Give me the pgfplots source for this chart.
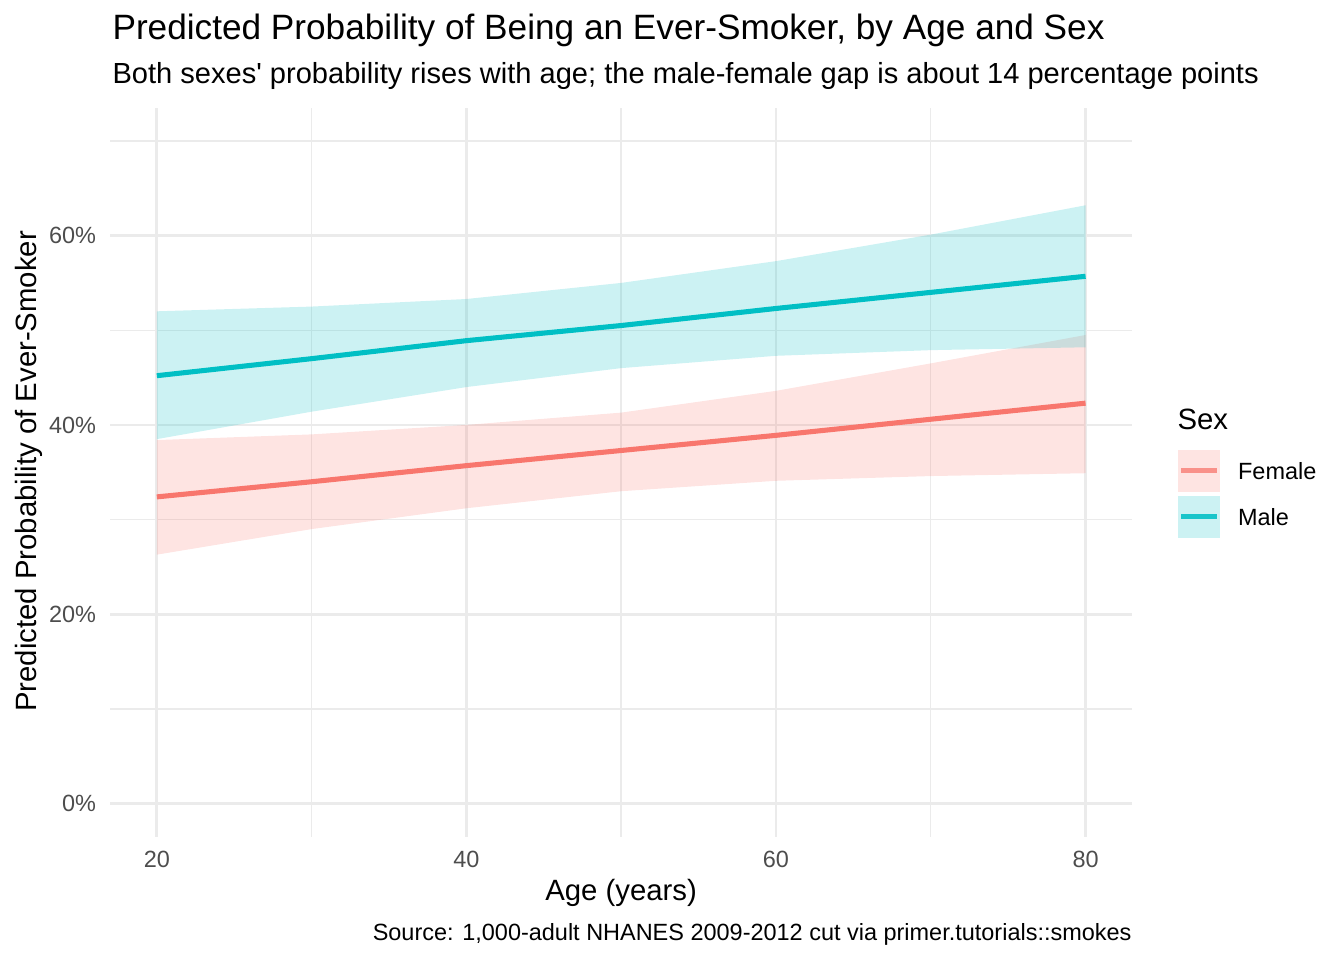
\documentclass[border=0pt]{standalone}
\usepackage{fontspec}
\setmainfont{Liberation Sans}[Ligatures=TeXOff]
\usepackage{pgfplots}
\pgfplotsset{compat=1.18}
\definecolor{fem}{HTML}{F8766D}
\definecolor{mal}{HTML}{00BFC4}
\definecolor{gridc}{HTML}{EBEBEB}
\definecolor{tickc}{HTML}{4D4D4D}
\begin{document}
\begin{tikzpicture}
\path[use as bounding box] (0,0) rectangle (504bp,360bp);
\begin{axis}[
  at={(41.4bp,46.2bp)}, anchor=south west,
  scale only axis, width=383.1bp, height=273.4bp,
  xmin=17, xmax=83, ymin=-3.5, ymax=73.5,
  axis line style={draw=none},
  tick style={draw=none},
  xtick={20,40,60,80}, ytick={0,20,40,60},
  minor xtick={30,50,70}, minor ytick={10,30,50,70},
  xticklabels={20,40,60,80},
  yticklabels={0\%,20\%,40\%,60\%},
  major tick length=0pt, minor tick length=0pt,
  grid=both,
  major grid style={draw=gridc, line width=1.07bp},
  minor grid style={draw=gridc, line width=0.53bp},
  ticklabel style={font=\fontsize{8.8bp}{10bp}\selectfont, text=tickc},
  xticklabel style={anchor=north, inner sep=0pt, yshift=-5.2bp},
  yticklabel style={anchor=east, inner sep=0pt, xshift=-5.2bp},
]
% Female ribbon
\addplot[draw=none, fill=fem, fill opacity=0.2, forget plot] coordinates {
 (20,38.4) (30,39.0) (40,40.0) (50,41.3) (60,43.6) (70,46.5) (80,49.5)
 (80,34.9) (70,34.6) (60,34.1) (50,33.0) (40,31.2) (30,29.0) (20,26.3) (20,38.4)};
% Male ribbon
\addplot[draw=none, fill=mal, fill opacity=0.2, forget plot] coordinates {
 (20,52.0) (30,52.5) (40,53.3) (50,55.0) (60,57.3) (70,60.1) (80,63.2)
 (80,48.2) (70,47.9) (60,47.3) (50,46.0) (40,44.0) (30,41.4) (20,38.5) (20,52.0)};
% Lines
\addplot[fem, line width=1.9bp, forget plot] coordinates {
 (20,32.4) (30,34.0) (40,35.7) (50,37.3) (60,38.9) (70,40.6) (80,42.3)};
\addplot[mal, line width=1.9bp, forget plot] coordinates {
 (20,45.2) (30,47.0) (40,48.9) (50,50.5) (60,52.3) (70,54.0) (80,55.7)};
\end{axis}
% Titles
\node[anchor=base west, inner sep=0pt, font=\fontsize{13.2bp}{15bp}\selectfont] at (42bp,345bp) {Predicted Probability of Being an Ever-Smoker, by Age and Sex};
\node[anchor=base west, inner sep=0pt, font=\fontsize{10.9bp}{13bp}\selectfont] at (42bp,328.8bp) {Both sexes' probability rises with age; the male-female gap is about 14 percentage points};
% Axis titles
\node[anchor=base, inner sep=0pt, font=\fontsize{11bp}{13bp}\selectfont] at (232.9bp,22.5bp) {Age (years)};
\node[anchor=base, rotate=90, inner sep=0pt, font=\fontsize{11bp}{13bp}\selectfont] at (13.75bp,183.2bp) {Predicted Probability of Ever-Smoker};
% Caption
\node[anchor=base east, inner sep=0pt, font=\fontsize{8.8bp}{10bp}\selectfont] at (424.5bp,7.5bp) {Source: 1,000-adult NHANES 2009-2012 cut via primer.tutorials::smokes};
% Legend
\node[anchor=base west, inner sep=0pt, font=\fontsize{11bp}{13bp}\selectfont] at (441.4bp,199.1bp) {Sex};
\fill[fem!20] (441.7bp,175.6bp) rectangle (457.5bp,191.25bp);
\draw[fem!80!white, line width=1.9bp] (442.9bp,183.4bp) -- (456.3bp,183.4bp);
\fill[mal!20] (441.7bp,158.4bp) rectangle (457.5bp,174.0bp);
\draw[mal!90!white, line width=1.9bp] (442.9bp,166.2bp) -- (456.3bp,166.2bp);
\node[anchor=west, inner sep=0pt, font=\fontsize{8.8bp}{10bp}\selectfont] at (464.1bp,183.4bp) {Female};
\node[anchor=west, inner sep=0pt, font=\fontsize{8.8bp}{10bp}\selectfont] at (464.1bp,166.2bp) {Male};
\end{tikzpicture}
\end{document}
